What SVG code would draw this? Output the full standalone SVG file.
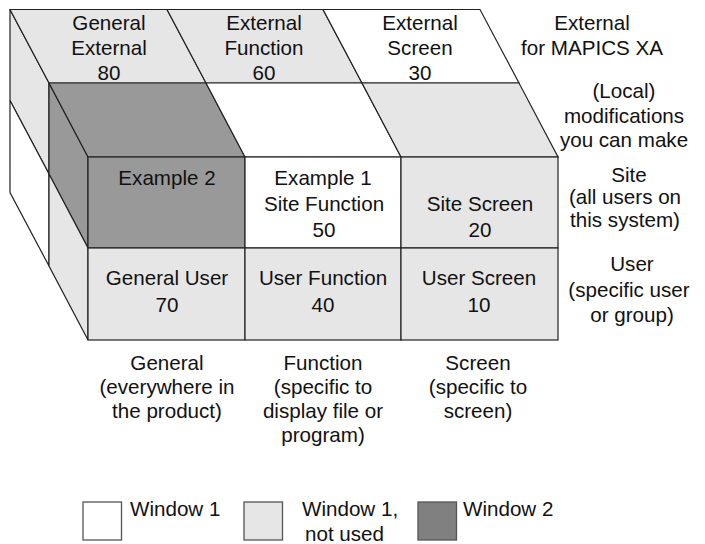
<svg xmlns="http://www.w3.org/2000/svg" width="705" height="544" viewBox="0 0 705 544">
<style>
text{font-family:"Liberation Sans",Arial,sans-serif;font-size:20.6px;fill:#111;text-anchor:middle}
.lg{fill:#e6e6e6}
.wh{fill:#ffffff}
.dk{fill:#999999}
.e{stroke:#222;stroke-width:1.2;stroke-linejoin:miter}
.box{stroke:#555;stroke-width:1.3}
.st{text-anchor:start}
</style>
<rect width="705" height="544" fill="#fff"/>
<g id="left-faces">
<polygon class="lg e" points="10,9.5 49,83 49,174 10,100.5"/>
<polygon class="wh e" points="10,100.5 49,174 49,266 10,192.5"/>
<polygon class="dk e" points="49,83 88,157 88,248 49,174"/>
<polygon class="lg e" points="49,174 88,248 88,340 49,266"/>
</g>
<g id="general-external">
<polygon class="lg e" points="10,9.5 167,9.5 206,83 49,83"/>
<text x="109" y="30">General</text><text x="109" y="55">External</text><text x="109" y="80">80</text>
</g>
<g id="external-function">
<polygon class="lg e" points="167,9.5 323,9.5 362,83 206,83"/>
<text x="264" y="30">External</text><text x="264" y="55">Function</text><text x="264" y="80">60</text>
</g>
<g id="external-screen">
<polygon class="wh e" points="323,9.5 480,9.5 519,83 362,83"/>
<text x="420" y="30">External</text><text x="420" y="55">Screen</text><text x="420" y="80">30</text>
</g>
<g id="local-general-top"><polygon class="dk e" points="49,83 206,83 245,157 88,157"/></g>
<g id="local-function-top"><polygon class="wh e" points="206,83 362,83 401,157 245,157"/></g>
<g id="local-screen-top"><polygon class="lg e" points="362,83 519,83 558,157 401,157"/></g>
<g id="example-2">
<rect class="dk e" x="88" y="157" width="157" height="91"/>
<text x="167" y="185">Example 2</text>
</g>
<g id="site-function">
<rect class="wh e" x="245" y="157" width="156" height="91"/>
<text x="323" y="185">Example 1</text><text x="324" y="211">Site Function</text><text x="324" y="237">50</text>
</g>
<g id="site-screen">
<rect class="lg e" x="401" y="157" width="157" height="91"/>
<text x="480" y="211">Site Screen</text><text x="480" y="237">20</text>
</g>
<g id="general-user">
<rect class="lg e" x="88" y="248" width="157" height="92"/>
<text x="167" y="285">General User</text><text x="167" y="312">70</text>
</g>
<g id="user-function">
<rect class="lg e" x="245" y="248" width="156" height="92"/>
<text x="323" y="285">User Function</text><text x="323" y="312">40</text>
</g>
<g id="user-screen">
<rect class="lg e" x="401" y="248" width="157" height="92"/>
<text x="479" y="285">User Screen</text><text x="479" y="312">10</text>
</g>
<g id="labels-right">
<text x="592" y="30">External</text><text x="592" y="55">for MAPICS XA</text>
<text x="624" y="98">(Local)</text><text x="624" y="123">modifications</text><text x="624" y="147">you can make</text>
<text x="629" y="182">Site</text><text x="625" y="204">(all users on</text><text x="625" y="227">this system)</text>
<text x="632" y="271">User</text><text x="629" y="297">(specific user</text><text x="632" y="322">or group)</text>
</g>
<g id="labels-bottom">
<text x="167" y="370">General</text><text x="167" y="394">(everywhere in</text><text x="167" y="418">the product)</text>
<text x="323" y="370">Function</text><text x="323" y="394">(specific to</text><text x="323" y="418">display file or</text><text x="323" y="442">program)</text>
<text x="478" y="370">Screen</text><text x="478" y="394">(specific to</text><text x="478" y="418">screen)</text>
</g>
<g id="legend">
<rect class="box" x="83" y="502" width="38.5" height="38" fill="#fff"/>
<text class="st" x="130" y="516">Window 1</text>
<rect class="box" x="244" y="502" width="38.5" height="38" fill="#e6e6e6"/>
<text class="st" x="302" y="516">Window 1,</text>
<text class="st" x="305" y="541">not used</text>
<rect class="box" x="418" y="502" width="38.5" height="38" fill="#808080"/>
<text class="st" x="463" y="516">Window 2</text>
</g>
<g id="connectors"/>
</svg>
